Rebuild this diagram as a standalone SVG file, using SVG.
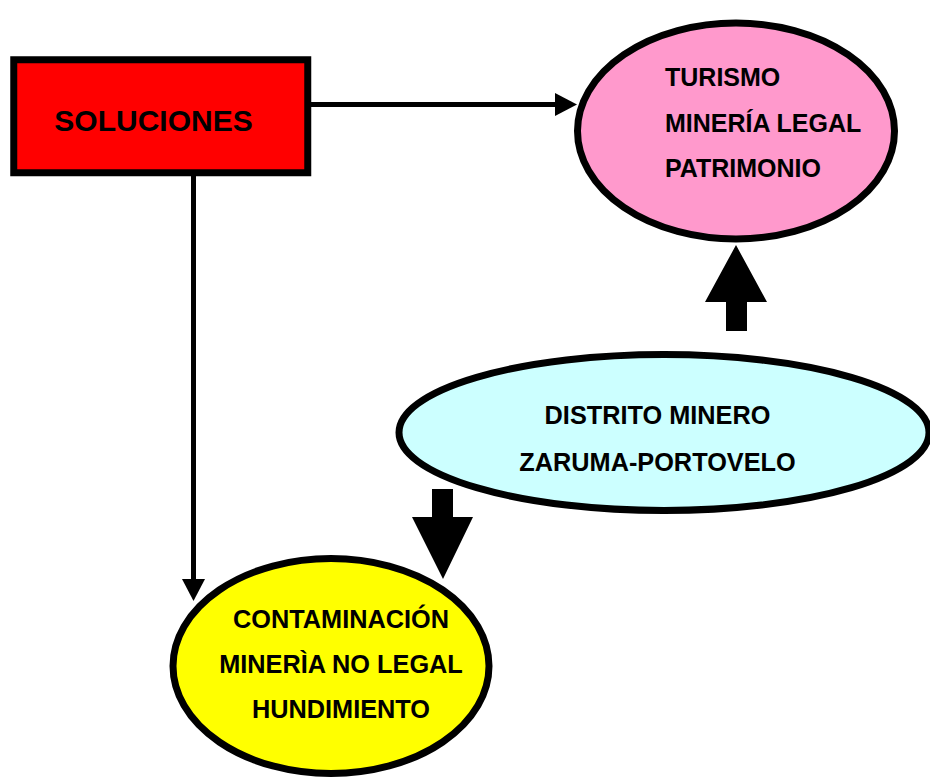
<svg xmlns="http://www.w3.org/2000/svg" width="930" height="780" viewBox="0 0 930 780">
<style>
  .lbl { font-family: "Liberation Sans", Arial, sans-serif; font-weight: bold; fill: #000; }
  .node { stroke: #000; stroke-width: 7; }
  .conn { stroke: #000; stroke-width: 5; fill: none; }
  .head { fill: #000; stroke: none; }
</style>
<rect width="930" height="780" fill="#fff"/>
<g id="connectors">
  <line class="conn" x1="311" y1="104.5" x2="556" y2="104.5"/>
  <polygon class="head" points="555,93 577,104.5 555,116"/>
  <line class="conn" x1="193.5" y1="176" x2="193.5" y2="580"/>
  <polygon class="head" points="182,579 205,579 193.5,601"/>
  <polygon class="head" points="726,331 747,331 747,302 767,302 736,245 705,302 726,302"/>
  <polygon class="head" points="432,489 453,489 453,517 473,517 443,579 412,517 432,517"/>
</g>
<g id="soluciones">
  <rect class="node" x="13.75" y="59.75" width="294" height="113" fill="#FF0000" stroke-width="7.5"/>
  <text class="lbl" x="153.5" y="130.7" font-size="30" text-anchor="middle">SOLUCIONES</text>
</g>
<g id="turismo">
  <ellipse class="node" cx="736" cy="131" rx="158.5" ry="108" fill="#FF99CC"/>
  <text class="lbl" x="665" y="86" font-size="25">TURISMO</text>
  <text class="lbl" x="665" y="131.5" font-size="25">MINERÍA LEGAL</text>
  <text class="lbl" x="665" y="177" font-size="25">PATRIMONIO</text>
</g>
<g id="distrito">
  <ellipse class="node" cx="664" cy="432.5" rx="265" ry="78" fill="#CCFFFF"/>
  <text class="lbl" x="657.5" y="424" font-size="25.3" text-anchor="middle">DISTRITO MINERO</text>
  <text class="lbl" x="657.5" y="471" font-size="25.3" text-anchor="middle">ZARUMA-PORTOVELO</text>
</g>
<g id="contaminacion">
  <ellipse class="node" cx="331" cy="666" rx="158" ry="107.5" fill="#FFFF00"/>
  <text class="lbl" x="341" y="628" font-size="25.3" text-anchor="middle">CONTAMINACIÓN</text>
  <text class="lbl" x="341" y="673" font-size="25.3" text-anchor="middle">MINERÌA NO LEGAL</text>
  <text class="lbl" x="341" y="718" font-size="25.3" text-anchor="middle">HUNDIMIENTO</text>
</g>
</svg>
